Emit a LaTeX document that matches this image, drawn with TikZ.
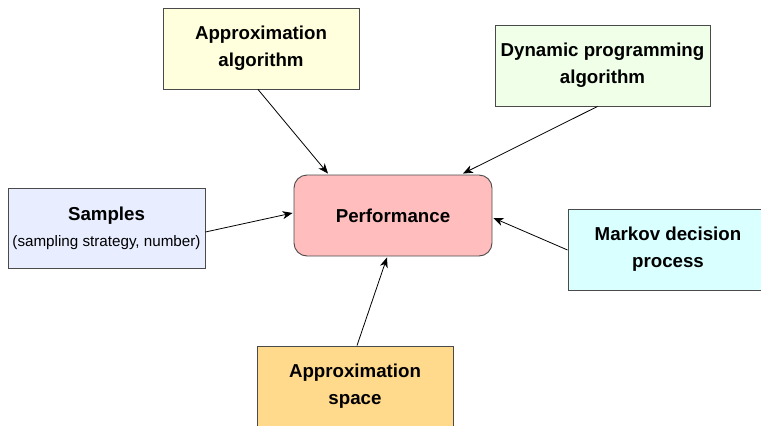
\documentclass[tikz,border=0pt]{standalone}
\usepackage{fontspec}
\setmainfont{Liberation Sans}
\usetikzlibrary{arrows.meta}
\definecolor{cAA}{HTML}{FFFFDD}
\definecolor{cDP}{HTML}{EFFFE8}
\definecolor{cSM}{HTML}{E8EEFF}
\definecolor{cPF}{HTML}{FFBDBD}
\definecolor{cMD}{HTML}{D9FFFF}
\definecolor{cAS}{HTML}{FFD98C}
\definecolor{cBD}{HTML}{4A4A4A}
\tikzset{
  box/.style={draw=cBD, line width=0.9pt, minimum width=196pt, minimum height=81pt,
    align=center, inner sep=2pt, font=\fontsize{18.7}{27}\selectfont\bfseries},
  conn/.style={line width=0.8pt, -{Stealth[length=10pt,width=8pt,inset=3pt]}},
}
\begin{document}
\begin{tikzpicture}[x=1pt,y=-1pt]
\useasboundingbox (0,0) rectangle (761,426);
\clip (0,0) rectangle (761,426);
\node[box, fill=cAA] (aa) at (261,48.5) {Approximation\\algorithm};
\node[box, fill=cDP, minimum width=215pt] (dp) at (602.5,65.5) {Dynamic programming\\algorithm};
\node[box, fill=cSM, minimum width=197pt, minimum height=80pt] (sm) at (106.5,228) {Samples\\[-1pt]{\fontsize{15.2}{20}\selectfont\mdseries (sampling strategy, number)}};
\node[box, fill=cPF, minimum width=198pt, rounded corners=13pt] (pf) at (393,215.5) {Performance};
\node[box, fill=cMD, minimum width=200pt] (md) at (668,249.5) {Markov decision\\process};
\node[box, fill=cAS] (as) at (355,386.5) {Approximation\\space};
\draw[conn] ([xshift=-3pt]aa.south) -- ([xshift=-65pt,yshift=1pt]pf.north);
\draw[conn] ([xshift=-5pt]dp.south) -- ([xshift=70pt,yshift=1pt]pf.north);
\draw[conn] ([yshift=-4pt]sm.east) -- ([xshift=-1pt,yshift=2.5pt]pf.west);
\draw[conn] ([yshift=-0.5pt]md.west) -- ([xshift=1pt,yshift=-2.5pt]pf.east);
\draw[conn] ([xshift=2pt]as.north) -- ([xshift=-6pt,yshift=-1pt]pf.south);
\end{tikzpicture}
\end{document}
